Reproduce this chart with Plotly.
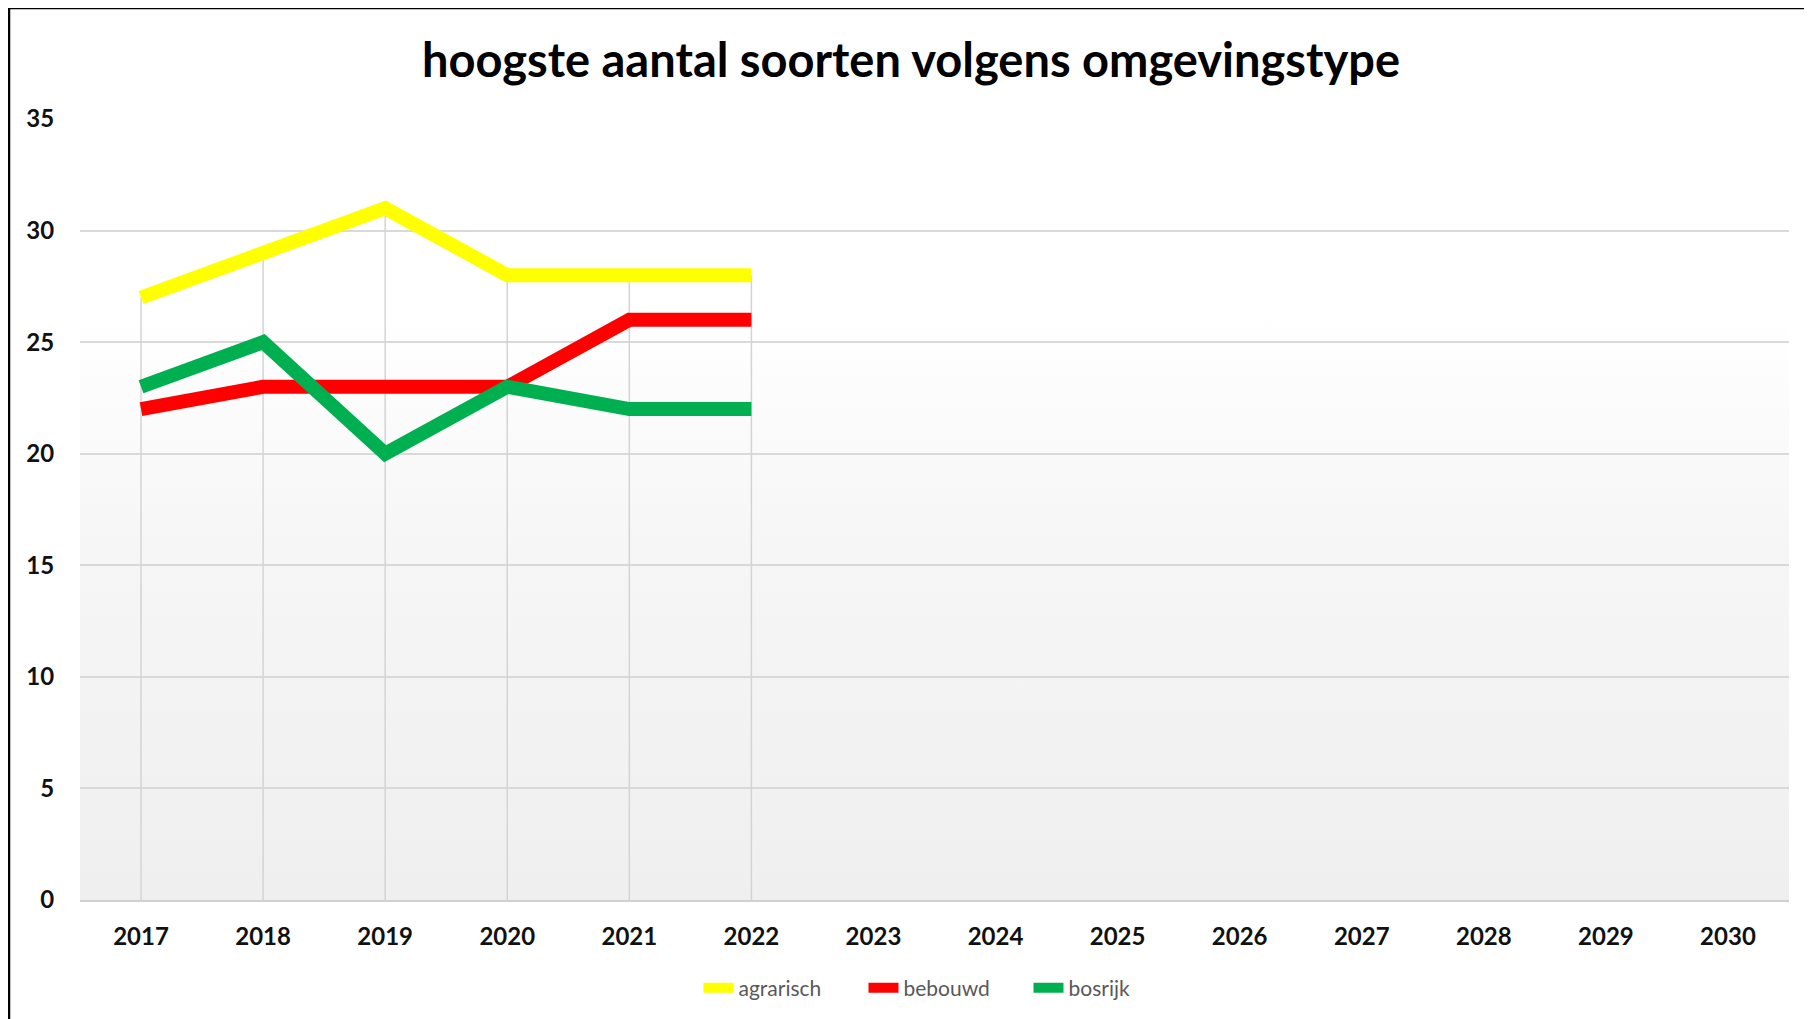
import base64
import plotly.graph_objects as go

# chart data
years = list(range(2017, 2031))
data_years = [2017, 2018, 2019, 2020, 2021, 2022]
agrarisch = [27, 29, 31, 28, 28, 28]
bebouwd = [22, 23, 23, 23, 26, 26]
bosrijk = [23, 25, 20, 23, 22, 22]

series = [
    ("agrarisch", agrarisch, "#FFFF00"),
    ("bebouwd", bebouwd, "#FF0000"),
    ("bosrijk", bosrijk, "#00B050"),
]

W, H = 1812, 1019
OFF = 8  # page body margin
ml, mr, mt, mb = 72, 31, 111, 127
pw, ph = W - ml - mr, H - mt - mb


def px_x(x):
    # page pixel -> paper x
    return (x - OFF - ml) / pw


def px_y(y):
    # page pixel -> paper y
    return (H - mb - (y - OFF)) / ph


# soft vertical gradient for plot area background (white top -> light grey bottom)
svg = (
    '<svg xmlns="http://www.w3.org/2000/svg" width="100" height="100" preserveAspectRatio="none">'
    '<defs><linearGradient id="g" x1="0" y1="0" x2="0" y2="1">'
    '<stop offset="0" stop-color="#ffffff"/>'
    '<stop offset="0.25" stop-color="#ffffff"/>'
    '<stop offset="0.55" stop-color="#f6f6f6"/>'
    '<stop offset="1" stop-color="#efefef"/>'
    '</linearGradient></defs>'
    '<rect width="100" height="100" fill="url(#g)"/></svg>'
)
bg_uri = "data:image/svg+xml;base64," + base64.b64encode(svg.encode()).decode()

fig = go.Figure()

# drop lines from highest value to the axis
drop_x, drop_y = [], []
for i, yr in enumerate(data_years):
    top = max(s[1][i] for s in series)
    drop_x += [yr, yr, None]
    drop_y += [0, top, None]
fig.add_trace(go.Scatter(
    x=drop_x, y=drop_y, mode="lines",
    line=dict(color="#d4d4d4", width=1.5),
    showlegend=False, hoverinfo="skip",
))

for name, vals, color in series:
    fig.add_trace(go.Scatter(
        x=data_years, y=vals, name=name, mode="lines",
        line=dict(color=color, width=14),
    ))

tick_font = dict(family="Lato", size=24, color="#111111", weight="bold")

fig.update_layout(
    width=W, height=H,
    margin=dict(l=ml, r=mr, t=mt, b=mb),
    paper_bgcolor="white",
    plot_bgcolor="rgba(0,0,0,0)",
    title=dict(
        text="hoogste aantal soorten volgens omgevingstype",
        font=dict(family="Lato", size=47, color="#000000", weight="bold"),
        x=(911 - OFF) / W, xanchor="center", xref="container",
        y=1 - (61 - OFF) / H, yanchor="middle", yref="container",
    ),
    xaxis=dict(
        range=[2016.5, 2030.5], tickvals=years, ticktext=[str(y) for y in years],
        showgrid=False, zeroline=False,
        showline=True, linecolor="#d0d0d0", linewidth=2,
        ticks="outside", ticklen=14, tickcolor="rgba(0,0,0,0)",
        tickfont=tick_font,
    ),
    yaxis=dict(
        range=[0, 35], dtick=5, showgrid=True, gridcolor="#d9d9d9", gridwidth=1.5,
        zeroline=False, showline=False,
        ticks="outside", ticklen=20, tickcolor="rgba(0,0,0,0)",
        tickfont=tick_font,
    ),
    legend=dict(
        orientation="h", x=px_x(946), xanchor="center",
        y=px_y(988), yanchor="middle",
        font=dict(family="Lato", size=21, color="#595959"),
        entrywidth=120, tracegroupgap=0,
    ),
    images=[dict(
        source=bg_uri, xref="paper", yref="paper", x=0, y=1,
        sizex=1, sizey=1, sizing="stretch", layer="below",
    )],
    shapes=[
        dict(type="line", xref="paper", yref="paper",
             x0=px_x(9), x1=px_x(9), y0=px_y(1040), y1=px_y(8),
             line=dict(color="#000000", width=2.5)),
        dict(type="line", xref="paper", yref="paper",
             x0=px_x(9), x1=px_x(1830), y0=px_y(8), y1=px_y(8),
             line=dict(color="#000000", width=2.5)),
        dict(type="line", xref="paper", yref="paper",
             x0=px_x(1807), x1=px_x(1807), y0=px_y(1040), y1=px_y(10),
             line=dict(color="#d8d8d8", width=1.5)),
    ],
)

fig.write_html("out.html")
